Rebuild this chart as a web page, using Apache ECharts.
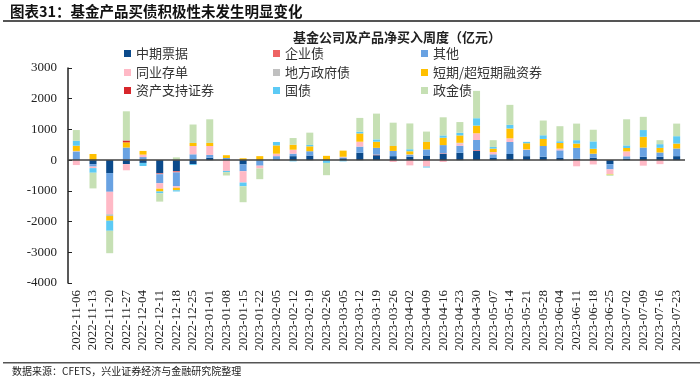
<!DOCTYPE html>
<html>
<head>
<meta charset="utf-8">
<script src="https://cdn.jsdelivr.net/npm/echarts@6/dist/echarts.min.js"></script>
<style>html,body{margin:0;padding:0;background:#fff}#c{width:700px;height:381px}</style>
</head>
<body>
<div id="c"></div>
<script>
var categories = ['2022-11-06','2022-11-13','2022-11-20','2022-11-27','2022-12-04','2022-12-11','2022-12-18','2022-12-25','2023-01-01','2023-01-08','2023-01-15','2023-01-22','2023-02-05','2023-02-12','2023-02-19','2023-02-26','2023-03-05','2023-03-12','2023-03-19','2023-03-26','2023-04-02','2023-04-09','2023-04-16','2023-04-23','2023-04-30','2023-05-07','2023-05-14','2023-05-21','2023-05-28','2023-06-04','2023-06-11','2023-06-18','2023-06-25','2023-07-02','2023-07-09','2023-07-16','2023-07-23'];
var yTicks = [-4000,-3000,-2000,-1000,0,1000,2000,3000];
var mtn    = [20,-130,-420,-130,-90,-430,-360,-130,80,0,-140,0,20,130,150,0,60,240,160,130,110,150,200,240,300,70,200,130,110,70,50,80,-130,50,110,110,130];
var corp   = [0,0,0,0,0,-30,-40,0,0,0,0,0,0,0,0,0,0,0,20,0,0,0,20,0,25,0,0,0,0,0,0,0,0,0,0,0,0];
var other  = [250,-80,-610,410,100,-290,-450,190,90,70,-220,-180,110,80,140,0,30,200,220,170,60,200,270,230,330,120,390,200,350,250,350,130,-170,75,300,140,250];
var ncd    = [-160,-50,-730,-200,80,-180,-50,270,290,-350,-370,-90,80,130,0,0,20,160,0,-60,-170,-210,-60,75,220,75,120,20,0,55,-200,-140,-150,160,-180,-130,0];
var local  = [30,0,-60,0,0,0,0,0,0,0,0,0,0,0,0,0,0,0,0,0,20,0,0,20,0,0,0,0,0,0,0,0,0,0,0,0,0];
var cp     = [170,200,-150,170,120,-90,-80,100,100,90,60,130,270,160,160,140,200,270,200,160,100,240,240,240,250,110,320,200,230,185,140,160,-20,110,350,150,160];
var abs    = [0,0,0,60,0,0,0,0,0,0,0,0,0,0,0,0,0,0,0,0,0,0,0,0,0,0,0,0,0,0,0,0,0,0,0,0,0];
var govt   = [160,-150,-330,0,-100,-60,-40,-30,0,-40,-120,0,110,-40,45,-90,-40,55,75,0,65,-30,75,85,240,55,120,45,120,55,110,240,0,85,220,120,240];
var policy = [350,-510,-730,950,0,-270,90,600,770,-110,-520,-350,0,220,400,-400,0,450,840,760,840,340,590,350,890,220,650,0,480,490,540,380,-40,850,430,130,410];

var names  = ['中期票据','企业债','其他','同业存单','地方政府债','短期/超短期融资券','资产支持证券','国债','政金债'];
var colors = ['#0b4a8b','#ee6363','#69a2e2','#ffb9c6','#c0c0c0','#ffc000','#d7262b','#5ccaf5','#c6e0b4'];
var datas  = [mtn,corp,other,ncd,local,cp,abs,govt,policy];

var series = names.map(function(n,i){
  var s = {name:n,type:'bar',stack:'all',barWidth:7,data:datas[i],
    itemStyle:{color:colors[i]},emphasis:{disabled:true}};
  if(i===0){
    s.markLine = {silent:true,symbol:'none',label:{show:false},
      lineStyle:{color:'#404040',width:1.5,type:'solid'},data:[{yAxis:0}]};
  }
  return s;
});

var colX = [119,268,416], rowY = [42,61,79];
var legends = names.map(function(n,i){
  return {data:[n],left:colX[i%3],top:rowY[Math.floor(i/3)],itemWidth:7,itemHeight:7,
    icon:'rect',selectedMode:false,textStyle:{fontSize:13,color:'#333',fontFamily:'Noto Sans CJK SC'}};
});

var chart = echarts.init(document.getElementById('c'));
chart.setOption({
  animation:false,
  backgroundColor:'#fff',
  title:{text:'基金公司及产品净买入周度（亿元）',left:392,textAlign:'center',top:26,
    textStyle:{fontSize:13,fontWeight:'bold',color:'#222',fontFamily:'Noto Sans CJK SC'}},
  legend:legends,
  grid:{left:68,right:15,top:68,bottom:98},
  xAxis:{type:'category',data:categories,
    axisLine:{show:false,onZero:false},axisTick:{show:false},
    axisLabel:{rotate:90,fontSize:13,color:'#222',fontFamily:'Liberation Serif',margin:7,interval:0}},
  yAxis:{type:'value',min:-4000,max:3000,interval:1000,
    axisLine:{show:true,lineStyle:{color:'#222',width:1.5}},
    axisTick:{show:true,inside:true,length:4,lineStyle:{color:'#222'}},
    splitLine:{show:false},
    axisLabel:{fontSize:13,color:'#222',fontFamily:'Liberation Serif',margin:11,
      formatter:function(v){return yTicks.indexOf(v)>=0?String(v):'';}}},
  series:series,
  graphic:[
    {type:'text',left:10,top:4,style:{text:'图表31：基金产品买债积极性未发生明显变化',fontSize:14.5,fontWeight:'bold',fill:'#111',fontFamily:'Noto Sans CJK SC'}},
    {type:'rect',shape:{x:3,y:20,width:697,height:2},style:{fill:'#555'}},
    {type:'rect',shape:{x:3,y:362,width:697,height:1.5},style:{fill:'#555'}},
    {type:'text',left:12,top:366,style:{text:'数据来源：CFETS，兴业证券经济与金融研究院整理',fontSize:10,fill:'#222',fontFamily:'Noto Sans CJK SC'}}
  ]
});
</script>
</body>
</html>
